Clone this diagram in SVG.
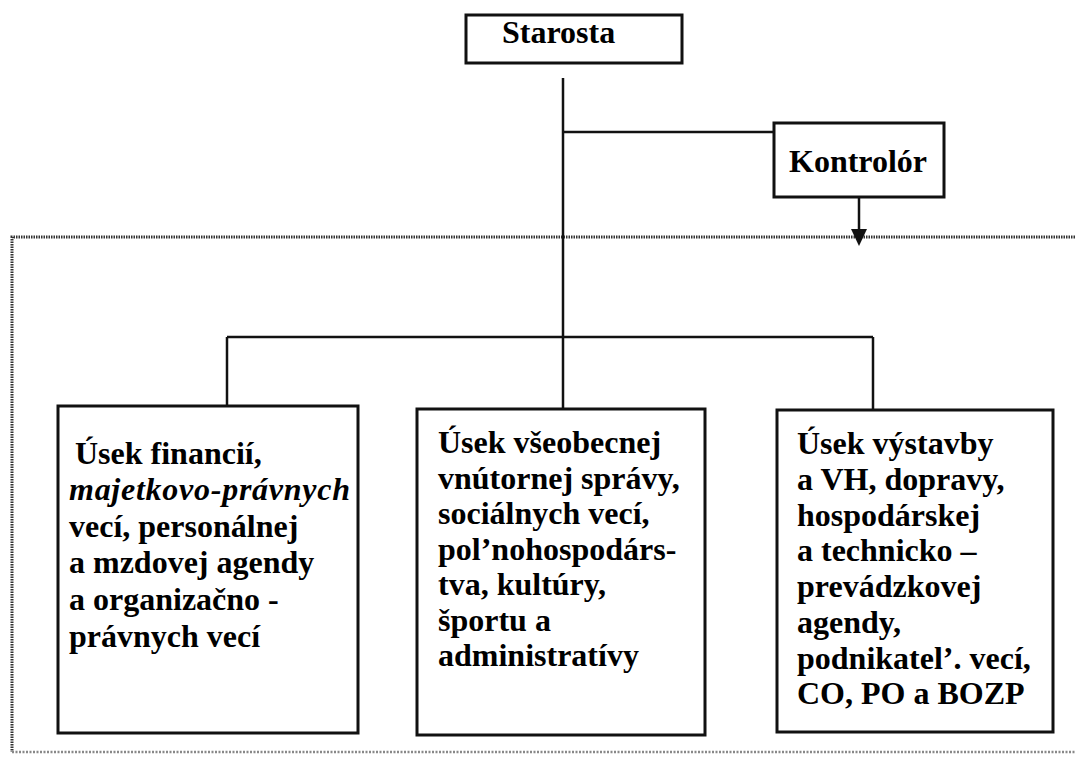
<svg xmlns="http://www.w3.org/2000/svg" width="1075" height="763" viewBox="0 0 1075 763">
<rect width="1075" height="763" fill="#fff"/>
<g id="frame" fill="none">
<path d="M1075,237 H12 V752" stroke="#333" stroke-width="3" stroke-dasharray="1.5 1"/>
<path d="M12,752 H1075" stroke="#888" stroke-width="2.5" stroke-dasharray="2 1.5"/>
</g>
<g id="connectors" fill="none" stroke="#111" stroke-width="2.5">
<path d="M563,78 V409"/>
<path d="M563,132 H774"/>
<path d="M227,337 H873"/>
<path d="M227,337 V406"/>
<path d="M873,337 V410"/>
<path d="M859,197 V229"/>
<path d="M851,229 L867,229 L859,246 Z" fill="#111" stroke="none"/>
</g>
<g id="starosta">
<rect x="466" y="15" width="216" height="48" fill="#fff" stroke="#111" stroke-width="3"/>
<text x="502" y="43" font-family="Times New Roman, Liberation Serif, serif" font-weight="bold" font-size="32">Starosta</text>
</g>
<g id="kontrolor">
<rect x="774" y="123" width="170" height="74" fill="#fff" stroke="#111" stroke-width="3"/>
<text x="789" y="172" font-family="Times New Roman, Liberation Serif, serif" font-weight="bold" font-size="32">Kontrolór</text>
</g>
<g id="usek1">
<rect x="58" y="406" width="300" height="327" fill="#fff" stroke="#111" stroke-width="3"/>
<text x="75" y="464" font-family="Times New Roman, Liberation Serif, serif" font-weight="bold" font-size="32">Úsek financií,</text>
<text x="69" y="500" textLength="281" lengthAdjust="spacing" font-family="Times New Roman, Liberation Serif, serif" font-weight="bold" font-style="italic" font-size="32">majetkovo-právnych</text>
<text x="69" y="537" font-family="Times New Roman, Liberation Serif, serif" font-weight="bold" font-size="32">vecí, personálnej</text>
<text x="69" y="573" font-family="Times New Roman, Liberation Serif, serif" font-weight="bold" font-size="32">a mzdovej agendy</text>
<text x="69" y="610" font-family="Times New Roman, Liberation Serif, serif" font-weight="bold" font-size="32">a organizačno -</text>
<text x="69" y="647" font-family="Times New Roman, Liberation Serif, serif" font-weight="bold" font-size="32">právnych vecí</text>
</g>
<g id="usek2">
<rect x="417" y="409" width="288" height="326" fill="#fff" stroke="#111" stroke-width="3"/>
<text x="438" y="453" font-family="Times New Roman, Liberation Serif, serif" font-weight="bold" font-size="32">Úsek všeobecnej</text>
<text x="438" y="488.5" font-family="Times New Roman, Liberation Serif, serif" font-weight="bold" font-size="32">vnútornej správy,</text>
<text x="438" y="524" font-family="Times New Roman, Liberation Serif, serif" font-weight="bold" font-size="32">sociálnych vecí,</text>
<text x="438" y="559.5" font-family="Times New Roman, Liberation Serif, serif" font-weight="bold" font-size="32">pol’nohospodárs-</text>
<text x="438" y="595" font-family="Times New Roman, Liberation Serif, serif" font-weight="bold" font-size="32">tva, kultúry,</text>
<text x="438" y="630.5" font-family="Times New Roman, Liberation Serif, serif" font-weight="bold" font-size="32">športu a</text>
<text x="438" y="666" font-family="Times New Roman, Liberation Serif, serif" font-weight="bold" font-size="32">administratívy</text>
</g>
<g id="usek3">
<rect x="777" y="410" width="276" height="322" fill="#fff" stroke="#111" stroke-width="3"/>
<text x="797" y="454" font-family="Times New Roman, Liberation Serif, serif" font-weight="bold" font-size="32">Úsek výstavby</text>
<text x="797" y="490" font-family="Times New Roman, Liberation Serif, serif" font-weight="bold" font-size="32">a VH, dopravy,</text>
<text x="797" y="525.5" font-family="Times New Roman, Liberation Serif, serif" font-weight="bold" font-size="32">hospodárskej</text>
<text x="797" y="561" font-family="Times New Roman, Liberation Serif, serif" font-weight="bold" font-size="32">a technicko –</text>
<text x="797" y="597" font-family="Times New Roman, Liberation Serif, serif" font-weight="bold" font-size="32">prevádzkovej</text>
<text x="797" y="633" font-family="Times New Roman, Liberation Serif, serif" font-weight="bold" font-size="32">agendy,</text>
<text x="797" y="668.5" font-family="Times New Roman, Liberation Serif, serif" font-weight="bold" font-size="32">podnikatel’. vecí,</text>
<text x="797" y="704" font-family="Times New Roman, Liberation Serif, serif" font-weight="bold" font-size="32">CO, PO a BOZP</text>
</g>
</svg>
